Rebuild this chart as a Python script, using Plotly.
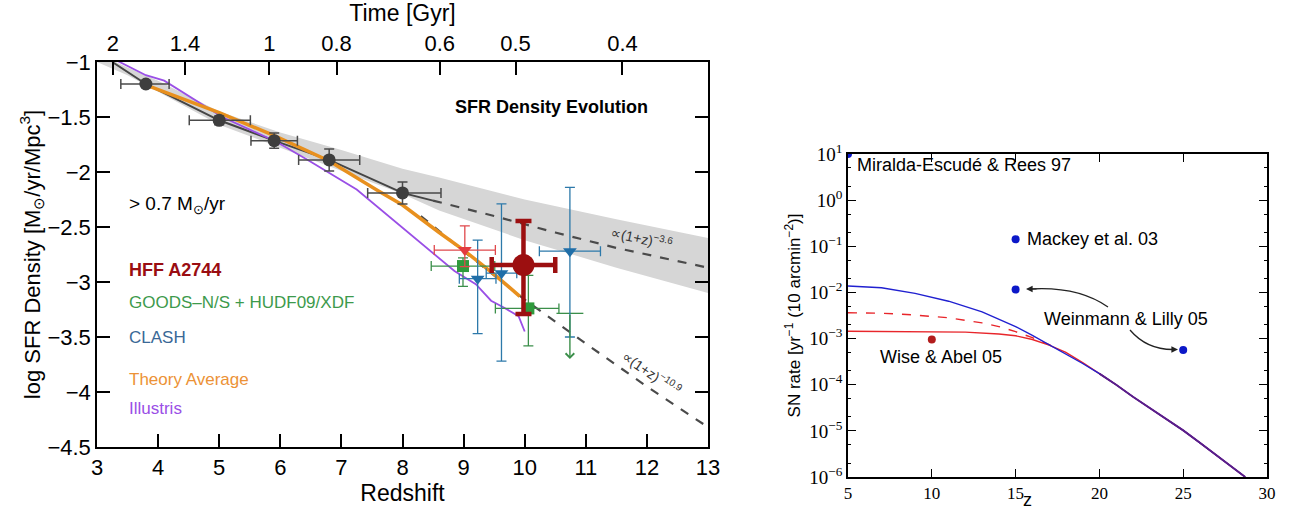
import numpy as np
import plotly.graph_objects as go

# ---------------- left panel: SFR density evolution ----------------
# binned measurements (dark grey)
bin_z = [3.8, 5.0, 5.9, 6.8, 8.0]
bin_sfrd = [-1.2, -1.53, -1.715, -1.89, -2.19]
bin_zerr_lo = [0.41, 0.49, 0.38, 0.5, 0.57]
bin_zerr_hi = [0.38, 0.51, 0.38, 0.5, 0.63]
bin_err = [0.03, 0.04, 0.07, 0.1, 0.1]

trend_z = [3.25, 3.8, 5.0, 5.9, 6.8, 8.0, 8.5]
trend_sfrd = [-1.0, -1.2, -1.53, -1.715, -1.89, -2.19, -2.26]

# grey uncertainty band
band_z = [3.0, 3.5, 4.0, 5.0, 6.0, 7.0, 8.0, 8.6, 10.0, 11.5, 13.0]
band_upper = [-0.92, -1.05, -1.17, -1.45, -1.64, -1.8, -1.97, -2.05, -2.25, -2.43, -2.6]
band_lower = [-1.0, -1.12, -1.27, -1.57, -1.78, -1.99, -2.2, -2.35, -2.62, -2.87, -3.1]

# power-law extrapolations
pl36_z = [8.5, 9.5, 10.5, 11.5, 12.5, 13.0]
pl36_sfrd = [-2.26, -2.40, -2.55, -2.69, -2.81, -2.87]
pl109_z = [8.3, 9.0, 10.0, 11.0, 12.0, 13.0]
pl109_sfrd = [-2.40, -2.72, -3.16, -3.56, -3.95, -4.32]

theory_z = [3.85, 5.0, 5.9, 6.8, 7.6, 8.0, 8.6, 9.0, 9.5, 9.92]
theory_sfrd = [-1.22, -1.46, -1.67, -1.9, -2.17, -2.3, -2.55, -2.71, -2.93, -3.13]

illustris_z = [3.3, 3.8, 4.1, 4.5, 5.05, 5.95, 6.45, 7.25, 8.05, 8.5, 8.85, 9.2, 9.45, 9.65, 9.9, 10.0]
illustris_sfrd = [-0.98, -1.12, -1.17, -1.31, -1.5, -1.73, -1.89, -2.16, -2.53, -2.73, -2.9, -3.02, -3.17, -3.23, -3.31, -3.45]

goods_z = [8.99, 10.06]
goods_sfrd = [-2.855, -3.24]
goods_zerr_lo = [0.52, 0.54]
goods_zerr_hi = [0.52, 0.5]
goods_err_hi = [0.075, 0.3]
goods_err_lo = [0.185, 0.34]
goods_limit_z = 10.74
goods_limit_sfrd = -3.285
goods_limit_tip = -3.7

clash_z = [9.23, 9.62, 10.74]
clash_sfrd = [-2.97, -2.92, -2.72]
clash_zerr = [0.3, 0.25, 0.5]
clash_err_hi = [0.35, 0.63, 0.58]
clash_err_lo = [0.5, 0.8, 0.78]

red_tri_z = [9.02]
red_tri_sfrd = [-2.71]

hff_z = [9.98]
hff_sfrd = [-2.845]
hff_zerr = [0.52]
hff_err_hi = [0.40]
hff_err_lo = [0.445]

redshift_ticks = list(range(3, 14))
sfrd_ticks = [-1, -1.5, -2, -2.5, -3, -3.5, -4, -4.5]
sfrd_labels = ["\u22121", "\u22121.5", "\u22122", "\u22122.5", "\u22123", "\u22123.5", "\u22124", "\u22124.5"]
time_tick_z = [3.26, 4.44, 5.82, 6.92, 8.61, 9.85, 11.6]
time_labels = ["2", "1.4", "1", "0.8", "0.6", "0.5", "0.4"]

# ---------------- right panel: SN rate ----------------
blue_z = [5, 7, 9, 11, 13, 15, 16, 17, 18, 19, 20, 21, 22, 23, 24, 25, 26, 27, 28, 28.7]
blue_lograte = [-1.86, -1.9, -2.02, -2.19, -2.42, -2.74, -2.93, -3.13, -3.33, -3.54, -3.76,
                -4.0, -4.26, -4.5, -4.74, -4.99, -5.26, -5.53, -5.81, -6.0]
red_dash_z = [5, 7, 9, 11, 13, 14, 15, 16, 17, 17.5]
red_dash_lograte = [-2.44, -2.45, -2.49, -2.55, -2.66, -2.74, -2.85, -2.98, -3.13, -3.22]
red_z = [5, 8, 10, 12, 14, 15, 16, 17, 18, 19, 20, 21, 22, 23, 24, 25, 26, 27, 28, 28.7]
red_lograte = [-2.84, -2.845, -2.85, -2.86, -2.9, -2.94, -3.02, -3.14, -3.3, -3.52, -3.76,
               -4.0, -4.26, -4.5, -4.74, -4.99, -5.26, -5.53, -5.81, -6.0]

lit_blue_z = [5, 15, 15, 25]
lit_blue_lograte = [1.0, -0.85, -1.935, -3.25]
lit_red_z = [10]
lit_red_lograte = [-3.02]

sn_x_ticks = [5, 10, 15, 20, 25, 30]
sn_y_exps = [-6, -5, -4, -3, -2, -1, 0, 1]

LFONT = "Liberation Sans Narrow, Liberation Sans, Arial, sans-serif"
SANS = "Liberation Sans, Arial, sans-serif"
SERIF = "Liberation Serif, DejaVu Serif, serif"
W, H = 1293, 512

fig = go.Figure()

# band
fig.add_trace(go.Scatter(x=band_z, y=band_upper, mode="lines", line=dict(width=0),
                         showlegend=False, hoverinfo="skip"))
fig.add_trace(go.Scatter(x=band_z, y=band_lower, mode="lines", line=dict(width=0),
                         fill="tonexty", fillcolor="#d6d6d6", showlegend=False, hoverinfo="skip"))
# invisible trace so the top (time) axis is drawn
fig.add_trace(go.Scatter(x=time_tick_z, y=[None] * len(time_tick_z), xaxis="x3", yaxis="y",
                         mode="markers", showlegend=False, hoverinfo="skip"))
# power laws
for xs, ys in [(pl36_z, pl36_sfrd), (pl109_z, pl109_sfrd)]:
    fig.add_trace(go.Scatter(x=xs, y=ys, mode="lines", line=dict(color="#4a4a4a", width=2.2, dash="dash"),
                             showlegend=False))
# trend line + bins
fig.add_trace(go.Scatter(x=trend_z, y=trend_sfrd, mode="lines", line=dict(color="#454545", width=2),
                         showlegend=False))
fig.add_trace(go.Scatter(x=illustris_z, y=illustris_sfrd, mode="lines", line=dict(color="#9a4fe6", width=1.8),
                         showlegend=False))
fig.add_trace(go.Scatter(x=theory_z, y=theory_sfrd, mode="lines", line=dict(color="#e8901e", width=3.5),
                         showlegend=False))
fig.add_trace(go.Scatter(
    x=bin_z, y=bin_sfrd, mode="markers",
    marker=dict(color="#3e3e3e", size=13),
    error_x=dict(type="data", symmetric=False, array=bin_zerr_hi, arrayminus=bin_zerr_lo,
                 color="#4a4a4a", thickness=1.5, width=5),
    error_y=dict(type="data", array=bin_err, color="#4a4a4a", thickness=1.5, width=5),
    showlegend=False))

# GOODS
fig.add_trace(go.Scatter(
    x=goods_z, y=goods_sfrd, mode="markers",
    marker=dict(color="#2f9a3c", size=12, symbol="square"),
    error_x=dict(type="data", symmetric=False, array=goods_zerr_hi, arrayminus=goods_zerr_lo,
                 color="#3b8f4a", thickness=1.3, width=5),
    error_y=dict(type="data", symmetric=False, array=goods_err_hi, arrayminus=goods_err_lo,
                 color="#3b8f4a", thickness=1.3, width=5),
    showlegend=False))
fig.add_trace(go.Scatter(
    x=[goods_limit_z], y=[goods_limit_sfrd], mode="markers",
    marker=dict(color="#3b8f4a", size=1),
    error_x=dict(type="data", array=[0.22], color="#3b8f4a", thickness=1.3, width=0),
    showlegend=False))
# CLASH
fig.add_trace(go.Scatter(
    x=clash_z, y=clash_sfrd, mode="markers",
    marker=dict(color="#1f6ea8", size=12, symbol="triangle-down"),
    error_x=dict(type="data", array=clash_zerr, color="#2d79aa", thickness=1.3, width=5),
    error_y=dict(type="data", symmetric=False, array=clash_err_hi, arrayminus=clash_err_lo,
                 color="#2d79aa", thickness=1.3, width=5),
    showlegend=False))
# red triangle
fig.add_trace(go.Scatter(
    x=red_tri_z, y=red_tri_sfrd, mode="markers",
    marker=dict(color="#e33b3f", size=12, symbol="triangle-down"),
    error_x=dict(type="data", array=[0.5], color="#e0484c", thickness=1.3, width=5),
    error_y=dict(type="data", array=[0.22], arrayminus=[0.15], symmetric=False,
                 color="#e0484c", thickness=1.3, width=5),
    showlegend=False))
# HFF A2744
fig.add_trace(go.Scatter(
    x=hff_z, y=hff_sfrd, mode="markers",
    marker=dict(color="#9c0f10", size=22),
    error_x=dict(type="data", array=hff_zerr, color="#9c0f10", thickness=4.5, width=8),
    error_y=dict(type="data", symmetric=False, array=hff_err_hi, arrayminus=hff_err_lo,
                 color="#9c0f10", thickness=4.5, width=8),
    showlegend=False))

# ---------------- right panel traces ----------------
fig.add_trace(go.Scatter(x=red_dash_z, y=10 ** np.array(red_dash_lograte), mode="lines",
                         line=dict(color="#e8262b", width=1.4, dash="dash"),
                         xaxis="x2", yaxis="y2", showlegend=False))
fig.add_trace(go.Scatter(x=red_z, y=10 ** np.array(red_lograte), mode="lines",
                         line=dict(color="#e8262b", width=1.4),
                         xaxis="x2", yaxis="y2", showlegend=False))
fig.add_trace(go.Scatter(x=blue_z, y=10 ** np.array(blue_lograte), mode="lines",
                         line=dict(color="#2020d0", width=1.4),
                         xaxis="x2", yaxis="y2", showlegend=False))
fig.add_trace(go.Scatter(x=blue_z[10:], y=10 ** np.array(blue_lograte[10:]), mode="lines",
                         line=dict(color="#5a1e8a", width=1.9),
                         xaxis="x2", yaxis="y2", showlegend=False))
fig.add_trace(go.Scatter(x=lit_blue_z, y=10 ** np.array(lit_blue_lograte), mode="markers",
                         marker=dict(color="#0c18c8", size=8),
                         xaxis="x2", yaxis="y2", showlegend=False))
fig.add_trace(go.Scatter(x=lit_red_z, y=10 ** np.array(lit_red_lograte), mode="markers",
                         marker=dict(color="#b21c1c", size=8),
                         xaxis="x2", yaxis="y2", showlegend=False))

# ---------------- layout ----------------
axis_common = dict(showline=True, linecolor="black", linewidth=1.5, ticks="inside",
                   tickcolor="black", showgrid=False, zeroline=False, automargin=False)

fig.update_layout(
    width=W, height=H, margin=dict(l=0, r=0, t=0, b=0),
    paper_bgcolor="white", plot_bgcolor="white", showlegend=False,
    xaxis=dict(domain=[97 / W, 708 / W], range=[3, 13], anchor="y",
               tickvals=redshift_ticks, ticklen=13, tickwidth=1.5,
               tickfont=dict(family=LFONT, size=22, color="black"),
               title=dict(text="Redshift", font=dict(family=LFONT, size=23, color="black"), standoff=2),
               **axis_common),
    xaxis3=dict(overlaying="x", side="top", anchor="y", range=[3, 13],
                tickvals=time_tick_z, ticktext=time_labels, ticklen=13, tickwidth=1.5,
                tickfont=dict(family=LFONT, size=22, color="black"),
                title=dict(text="Time [Gyr]", font=dict(family=LFONT, size=23, color="black"), standoff=4),
                **axis_common),
    yaxis=dict(domain=[1 - 447 / H, 1 - 62 / H], range=[-4.5, -1], anchor="x",
               tickvals=sfrd_ticks, ticktext=sfrd_labels, ticklen=13, tickwidth=1.5, mirror="ticks",
               tickfont=dict(family=LFONT, size=22, color="black"),
               title=dict(text="log SFR Density [M<sub>\u2299</sub>/yr/Mpc<sup>3</sup>]",
                          font=dict(family=LFONT, size=22, color="black"), standoff=1),
               **axis_common),
    xaxis2=dict(domain=[848 / W, 1267 / W], range=[5, 30], anchor="y2",
                tickvals=sn_x_ticks, ticklen=8, mirror="ticks",
                tickfont=dict(family=SERIF, size=17, color="black"),
                **axis_common),
    yaxis2=dict(domain=[1 - 477 / H, 1 - 154 / H], type="log", range=[-6, 1], anchor="x2",
                tickvals=[10.0 ** e for e in sn_y_exps],
                ticktext=[f"10<sup>{str(e).replace('-', chr(8722))}</sup>" for e in sn_y_exps],
                ticklen=8, mirror="ticks",
                minor=dict(ticks="inside", ticklen=3, tickcolor="black", showgrid=False),
                tickfont=dict(family=SERIF, size=19, color="black"),
                title=dict(text="SN rate [yr<sup>\u22121</sup> (10 arcmin<sup>\u22122</sup>)]",
                           font=dict(family=SANS, size=17, color="black"), standoff=4),
                **axis_common),
)

# right panel x title, placed by hand to stay inside the page
fig.add_annotation(x=15.7, y=0, xref="x2", yref="paper", text="z", showarrow=False,
                   yanchor="bottom", yshift=0, font=dict(family=SANS, size=18, color="black"))

# ---------------- left panel text ----------------
left_labels = [
    ("> 0.7 M<sub>\u2299</sub>/yr", -2.3, "black", 19, False),
    ("HFF A2744", -2.89, "#9a0d12", 18, True),
    ("GOODS\u2013N/S + HUDF09/XDF", -3.19, "#3d9a4c", 17, False),
    ("CLASH", -3.5, "#3a6896", 17, False),
    ("Theory Average", -3.89, "#ec9236", 17, False),
    ("Illustris", -4.15, "#9a4fe6", 17, False),
]
for text, yv, col, size, bold in left_labels:
    fig.add_annotation(x=3.49, y=yv, xref="x", yref="y", text=f"<b>{text}</b>" if bold else text,
                       showarrow=False, xanchor="left", yanchor="middle",
                       font=dict(family=LFONT, size=size, color=col))

fig.add_annotation(x=10.44, y=-1.41, xref="x", yref="y", text="<b>SFR Density Evolution</b>",
                   showarrow=False, font=dict(family=LFONT, size=18, color="black"))
fig.add_annotation(x=11.92, y=-2.6, xref="x", yref="y", text="\u221d(1+z)<sup>\u22123.6</sup>",
                   showarrow=False, textangle=12, font=dict(family=LFONT, size=14, color="#333333"))
fig.add_annotation(x=12.08, y=-3.83, xref="x", yref="y", text="\u221d(1+z)<sup>\u221210.9</sup>",
                   showarrow=False, textangle=34, font=dict(family=LFONT, size=14, color="#333333"))
# GOODS upper limit arrow
fig.add_annotation(x=goods_limit_z, y=goods_limit_tip, ax=goods_limit_z, ay=goods_limit_sfrd,
                   xref="x", yref="y", axref="x", ayref="y", text="", showarrow=True,
                   arrowhead=4, arrowsize=1.2, arrowwidth=1.4, arrowcolor="#3b8f4a")

# ---------------- right panel text ----------------
right_labels = [
    ("Miralda-Escud\u00e9 & Rees 97", 5.42, 0.76),
    ("Mackey et al. 03", 15.57, -0.85),
    ("Weinmann & Lilly 05", 16.57, -2.565),
    ("Wise & Abel 05", 6.81, -3.40),
]
for text, xv, ylog in right_labels:
    fig.add_annotation(x=xv, y=ylog, xref="x2", yref="y2", text=text, showarrow=False,
                       xanchor="left", yanchor="middle", font=dict(family=SANS, size=18, color="black"))

# curved arrows (paper coordinates)
def pp(px, py):
    return px / W, 1 - py / H

for (p0, p1, p2) in [((1108, 307), (1078, 286), (1030, 289)), ((1130, 330), (1147, 350), (1174, 349.5))]:
    a, b, c = pp(*p0), pp(*p1), pp(*p2)
    fig.add_shape(type="path", xref="paper", yref="paper",
                  path=f"M {a[0]},{a[1]} Q {b[0]},{b[1]} {c[0]},{c[1]}",
                  line=dict(color="#222222", width=1.3))
for tip, dx in [((1026, 289), 12), ((1178, 349.5), -12)]:
    t = pp(*tip)
    fig.add_annotation(x=t[0], y=t[1], xref="paper", yref="paper", ax=dx, ay=0, text="",
                       showarrow=True, arrowhead=2, arrowsize=1.1, arrowwidth=1.2, arrowcolor="#222222")

fig.write_html("out.html", config={"displayModeBar": False},
               post_script="document.body.style.margin='0';")
